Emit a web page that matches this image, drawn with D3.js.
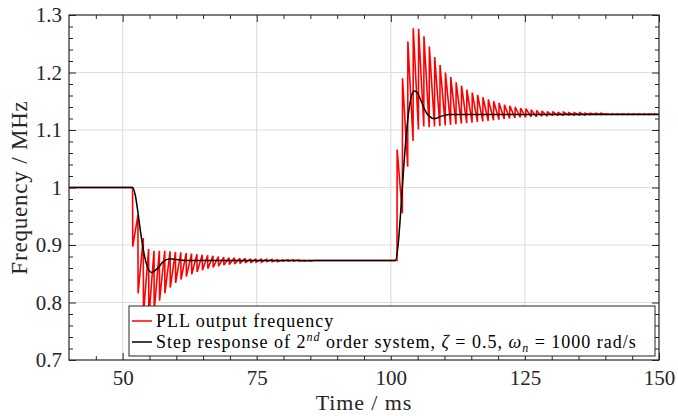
<!DOCTYPE html>
<html><head><meta charset="utf-8">
<script src="https://cdn.jsdelivr.net/npm/d3@7"></script>
<style>body{margin:0;background:#fff}svg{display:block}</style>
</head><body><svg id="chart" width="678" height="416"></svg>
<script>
// ---------- data ----------
const xTicks = [50, 75, 100, 125, 150];
const xTickLabels = ["50", "75", "100", "125", "150"];
const yTicks = [0.7, 0.8, 0.9, 1.0, 1.1, 1.2, 1.3];
const yTickLabels = ["0.7", "0.8", "0.9", "1", "1.1", "1.2", "1.3"];
const xDomain = [40, 150];
const yDomain = [0.7, 1.3];

// PLL output before first step
const pllStartTime = [40];
const pllStartFreq = [1.0];
// step down: sawtooth (drop at each time from peak to trough)
const downTimes = [51.85,52.85,53.85,54.85,55.85,56.85,57.85,58.85,59.85,60.85,61.85,62.85,63.85,64.85,65.85,66.85,67.85,68.85,69.85,70.85,71.85,72.85,73.85,74.85,75.85,76.85,77.85,78.85,79.85,80.85,81.85,82.85,83.85,84.85,85.85,86.85];
const downPeaks = [1.000,0.952,0.912,0.893,0.890,0.890,0.890,0.889,0.888,0.887,0.886,0.885,0.884,0.883,0.882,0.881,0.880,0.879,0.878,0.878,0.877,0.877,0.876,0.876,0.875,0.875,0.875,0.874,0.874,0.874,0.874,0.874,0.873,0.873,0.873,0.873];
const downTroughs = [0.897,0.816,0.780,0.772,0.785,0.803,0.816,0.826,0.834,0.840,0.845,0.849,0.853,0.856,0.859,0.861,0.863,0.865,0.866,0.867,0.868,0.869,0.869,0.870,0.870,0.871,0.871,0.871,0.872,0.872,0.872,0.872,0.872,0.872,0.873,0.873];
// step up: sawtooth (rise at each time from trough to peak)
const upTimes = [101.15,102.15,103.15,104.15,105.15,106.15,107.15,108.15,109.15,110.15,111.15,112.15,113.15,114.15,115.15,116.15,117.15,118.15,119.15,120.15,121.15,122.15,123.15,124.15,125.15,126.15,127.15,128.15,129.15,130.15,131.15,132.15,133.15,134.15,135.15,136.15,137.15,138.15,139.15,140.15,141.15,142.15,143.15,144.15,145.15,146.15,147.15,148.15,149.15];
const upTroughs = [0.873,0.955,1.036,1.081,1.101,1.106,1.105,1.106,1.107,1.108,1.109,1.110,1.111,1.112,1.113,1.114,1.115,1.116,1.117,1.118,1.119,1.120,1.121,1.122,1.122,1.123,1.123,1.124,1.124,1.125,1.125,1.125,1.126,1.126,1.126,1.126,1.127,1.127,1.127,1.127,1.127,1.127,1.127,1.127,1.127,1.127,1.127,1.127,1.127];
const upPeaks = [1.066,1.190,1.254,1.277,1.276,1.263,1.245,1.227,1.213,1.200,1.192,1.183,1.177,1.170,1.165,1.161,1.157,1.153,1.150,1.147,1.144,1.142,1.140,1.138,1.137,1.135,1.134,1.133,1.132,1.132,1.131,1.131,1.130,1.130,1.130,1.129,1.129,1.129,1.129,1.128,1.128,1.128,1.128,1.128,1.128,1.128,1.128,1.128,1.128];
const pllEndTime = [150];
const pllEndFreq = [1.127];

// 2nd order step response
const stepTime = [40,51.85,52.35,52.85,53.35,53.85,54.35,54.85,55.35,55.85,56.35,56.85,57.35,57.85,58.35,58.85,59.85,60.85,61.85,100.85,101.35,101.85,102.35,102.85,103.35,103.85,104.35,104.85,105.35,105.85,106.35,106.85,107.35,107.85,108.35,108.85,109.85,110.85,150];
const stepFreq = [1.0,1.0,0.987,0.957,0.922,0.892,0.870,0.857,0.852,0.854,0.858,0.863,0.869,0.873,0.875,0.876,0.875,0.874,0.873,0.873,0.899,0.959,1.028,1.089,1.133,1.159,1.168,1.166,1.157,1.146,1.135,1.127,1.123,1.120,1.120,1.122,1.125,1.127,1.127];

const legendLabels = ["PLL output frequency", "Step response"];

// ---------- layout ----------
const W = 678, H = 416;
const m = {left: 69, right: 19, top: 15, bottom: 56};
const FONT = "Liberation Serif";
const AX = "#262626";

const svg = d3.select("#chart");
const x = d3.scaleLinear().domain(xDomain).range([m.left, W - m.right]);
const y = d3.scaleLinear().domain(yDomain).range([H - m.bottom, m.top]);
const pw = W - m.left - m.right, ph = H - m.top - m.bottom;

// build red series
const pll = [];
pllStartTime.forEach((t, i) => pll.push([t, pllStartFreq[i]]));
downTimes.forEach((t, i) => { pll.push([t, downPeaks[i]]); pll.push([t + 0.03, downTroughs[i]]); });
upTimes.forEach((t, i) => { pll.push([t, upTroughs[i]]); pll.push([t + 0.03, upPeaks[i]]); });
pllEndTime.forEach((t, i) => pll.push([t, pllEndFreq[i]]));
const step = stepTime.map((t, i) => [t, stepFreq[i]]);

// grid
const g = svg.append("g");
g.selectAll(".gx").data(xTicks.filter(d => d > xDomain[0] && d < xDomain[1])).join("line")
  .attr("x1", d => x(d)).attr("x2", d => x(d)).attr("y1", m.top).attr("y2", H - m.bottom)
  .attr("stroke", "#dfdfdf").attr("stroke-width", 1.2);
g.selectAll(".gy").data(yTicks.filter(d => d > yDomain[0] && d < yDomain[1])).join("line")
  .attr("y1", d => y(d)).attr("y2", d => y(d)).attr("x1", m.left).attr("x2", W - m.right)
  .attr("stroke", "#dfdfdf").attr("stroke-width", 1.2);

// clip
svg.append("clipPath").attr("id", "clip").append("rect")
  .attr("x", m.left).attr("y", m.top).attr("width", pw).attr("height", ph);

const line = d3.line().x(d => x(d[0])).y(d => y(d[1]));
svg.append("path").datum(pll).attr("clip-path", "url(#clip)")
  .attr("d", line).attr("fill", "none").attr("stroke", "#ff0000").attr("stroke-width", 1.6)
  .attr("stroke-linejoin", "miter").attr("stroke-miterlimit", 2);
svg.append("path").datum(step).attr("clip-path", "url(#clip)")
  .attr("d", line.curve(d3.curveMonotoneX)).attr("fill", "none").attr("stroke", "#000").attr("stroke-width", 1.5);

// axes (ticks inside, all four sides)
const minorX = d3.range(45, 150, 5).filter(d => !xTicks.includes(d));
const minorY = d3.range(0, 31).map(i => +(0.7 + i * 0.02).toFixed(2)).filter(d => !yTicks.some(t => Math.abs(t - d) < 1e-6));

function styleAxis(sel) {
  sel.attr("font-family", FONT).attr("font-size", 21);
  sel.selectAll("path").remove();
  sel.selectAll("line").attr("stroke", AX).attr("stroke-width", 1);
  sel.selectAll("text").attr("fill", AX).attr("font-family", FONT).attr("font-size", 21);
}
const bottom = svg.append("g").attr("transform", `translate(0,${H - m.bottom})`)
  .call(d3.axisBottom(x).tickValues(xTicks).tickFormat((d, i) => xTickLabels[i]).tickSizeInner(-7).tickSizeOuter(0).tickPadding(10));
styleAxis(bottom);
svg.append("g").attr("transform", `translate(0,${H - m.bottom})`)
  .call(d3.axisBottom(x).tickValues(minorX).tickFormat("").tickSizeInner(-4).tickSizeOuter(0)).call(styleAxis);
svg.append("g").attr("transform", `translate(0,${m.top})`)
  .call(d3.axisTop(x).tickValues(xTicks).tickFormat("").tickSizeInner(-7).tickSizeOuter(0)).call(styleAxis);
svg.append("g").attr("transform", `translate(0,${m.top})`)
  .call(d3.axisTop(x).tickValues(minorX).tickFormat("").tickSizeInner(-4).tickSizeOuter(0)).call(styleAxis);
const left = svg.append("g").attr("transform", `translate(${m.left},0)`)
  .call(d3.axisLeft(y).tickValues(yTicks).tickFormat((d, i) => yTickLabels[i]).tickSizeInner(-7).tickSizeOuter(0).tickPadding(7));
styleAxis(left);
svg.append("g").attr("transform", `translate(${m.left},0)`)
  .call(d3.axisLeft(y).tickValues(minorY).tickFormat("").tickSizeInner(-4).tickSizeOuter(0)).call(styleAxis);
svg.append("g").attr("transform", `translate(${W - m.right},0)`)
  .call(d3.axisRight(y).tickValues(yTicks).tickFormat("").tickSizeInner(-7).tickSizeOuter(0)).call(styleAxis);
svg.append("g").attr("transform", `translate(${W - m.right},0)`)
  .call(d3.axisRight(y).tickValues(minorY).tickFormat("").tickSizeInner(-4).tickSizeOuter(0)).call(styleAxis);

// frame
svg.append("rect").attr("x", m.left).attr("y", m.top).attr("width", pw).attr("height", ph)
  .attr("fill", "none").attr("stroke", AX).attr("stroke-width", 1.2);

// axis labels
svg.append("text").attr("x", x(95)).attr("y", 410).attr("text-anchor", "middle")
  .attr("font-family", FONT).attr("font-size", 22).attr("letter-spacing", 0.9).attr("fill", AX).text("Time / ms");
svg.append("text").attr("transform", `translate(27,${y(1.0)}) rotate(-90)`).attr("text-anchor", "middle")
  .attr("font-family", FONT).attr("font-size", 23).attr("letter-spacing", 0.8).attr("fill", AX).text("Frequency / MHz");

// legend
const lg = svg.append("g").attr("font-family", FONT);
const lx = 129, ly = 306, lw = 526, lh = 50;
lg.append("rect").attr("x", lx).attr("y", ly).attr("width", lw).attr("height", lh)
  .attr("fill", "#fff").attr("stroke", AX).attr("stroke-width", 1);
const rows = [{c: "#ff0000", yy: ly + 15}, {c: "#000", yy: ly + 36}];
rows.forEach((r, i) => {
  lg.append("line").attr("x1", lx + 3).attr("x2", lx + 23).attr("y1", r.yy).attr("y2", r.yy)
    .attr("stroke", r.c).attr("stroke-width", 1.5);
});
const t1 = lg.append("text").attr("x", lx + 27).attr("y", rows[0].yy + 6)
  .attr("font-family", FONT).attr("font-size", 18).attr("letter-spacing", 1.0).attr("fill", "#000").text(legendLabels[0]);
const t2 = lg.append("text").attr("x", lx + 27).attr("y", rows[1].yy + 6)
  .attr("font-family", FONT).attr("font-size", 18).attr("letter-spacing", 1.0).attr("fill", "#000");
t2.append("tspan").text(legendLabels[1] + " of 2");
t2.append("tspan").attr("font-size", 12).attr("font-style", "italic").attr("dy", -7).text("nd");
t2.append("tspan").attr("dy", 7).text(" order system, ");
t2.append("tspan").attr("font-style", "italic").text("ζ");
t2.append("tspan").text(" = 0.5, ");
t2.append("tspan").attr("font-style", "italic").text("ω");
t2.append("tspan").attr("font-size", 12).attr("font-style", "italic").attr("dy", 4).text("n");
t2.append("tspan").attr("dy", -4).text(" = 1000 rad/s");
</script></body></html>
